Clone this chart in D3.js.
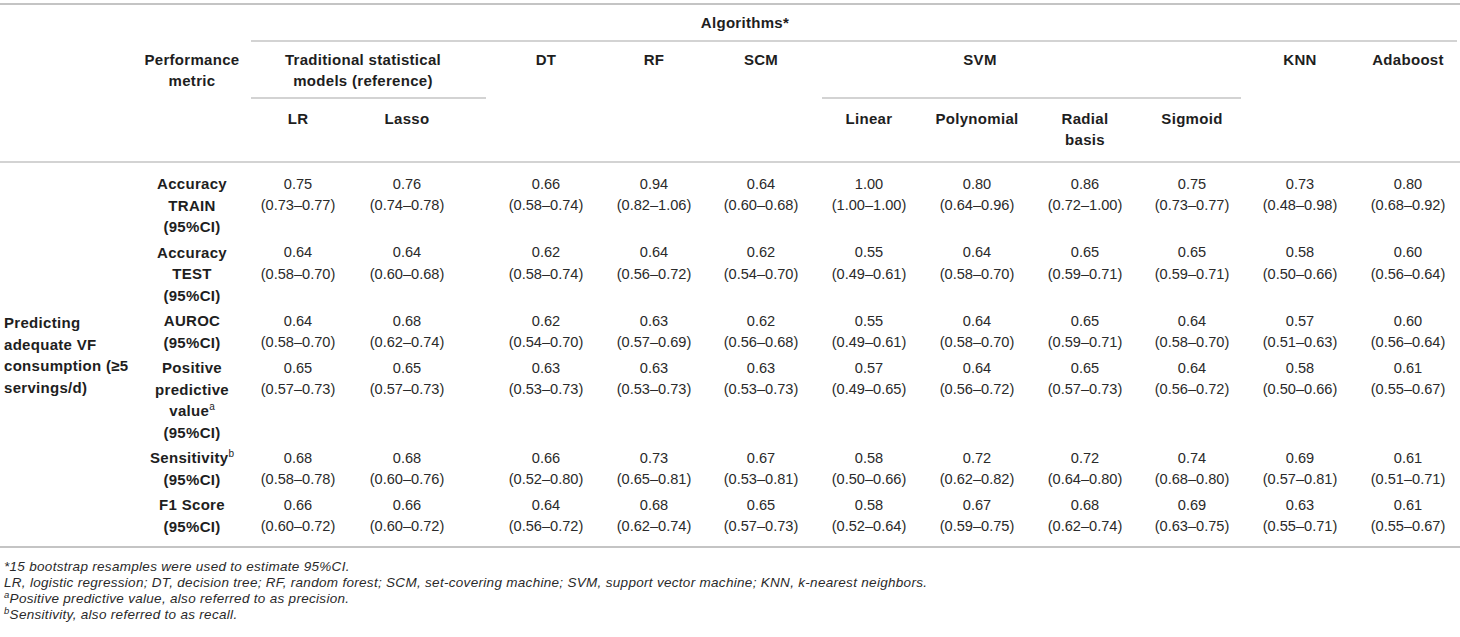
<!DOCTYPE html>
<html>
<head>
<meta charset="utf-8">
<script src="https://cdn.jsdelivr.net/npm/d3@7"></script>
<style>
  body { margin: 0; background: #fff; }
  svg { font-family: "Liberation Sans", Arial, Helvetica, sans-serif; }
  .hd { font-weight: bold; font-size: 15px; letter-spacing: 0.3px; fill: #1e1e1e; }
  .val { font-size: 14.6px; fill: #2a2a2a; }
  .note { font-style: italic; font-size: 13.5px; letter-spacing: 0.3px; fill: #2a2a2a; }
  .rule { stroke: #c4c4c4; }
</style>
</head>
<body>
<svg id="chart"></svg>
<script>
// columns (algorithms) left to right
const algorithms = ["LR", "Lasso", "DT", "RF", "SCM", "Linear", "Polynomial", "Radial basis", "Sigmoid", "KNN", "Adaboost"];

// metric row labels, "^" marks a superscript
const metricLabels = [
  ["Accuracy", "TRAIN", "(95%CI)"],
  ["Accuracy", "TEST", "(95%CI)"],
  ["AUROC", "(95%CI)"],
  ["Positive", "predictive", "value^a", "(95%CI)"],
  ["Sensitivity^b", "(95%CI)"],
  ["F1 Score", "(95%CI)"]
];

// [estimate, lower, upper] per algorithm
const accuracyTrain = [[0.75, 0.73, 0.77], [0.76, 0.74, 0.78], [0.66, 0.58, 0.74], [0.94, 0.82, 1.06], [0.64, 0.60, 0.68], [1.00, 1.00, 1.00], [0.80, 0.64, 0.96], [0.86, 0.72, 1.00], [0.75, 0.73, 0.77], [0.73, 0.48, 0.98], [0.80, 0.68, 0.92]];
const accuracyTest = [[0.64, 0.58, 0.70], [0.64, 0.60, 0.68], [0.62, 0.58, 0.74], [0.64, 0.56, 0.72], [0.62, 0.54, 0.70], [0.55, 0.49, 0.61], [0.64, 0.58, 0.70], [0.65, 0.59, 0.71], [0.65, 0.59, 0.71], [0.58, 0.50, 0.66], [0.60, 0.56, 0.64]];
const auroc = [[0.64, 0.58, 0.70], [0.68, 0.62, 0.74], [0.62, 0.54, 0.70], [0.63, 0.57, 0.69], [0.62, 0.56, 0.68], [0.55, 0.49, 0.61], [0.64, 0.58, 0.70], [0.65, 0.59, 0.71], [0.64, 0.58, 0.70], [0.57, 0.51, 0.63], [0.60, 0.56, 0.64]];
const ppv = [[0.65, 0.57, 0.73], [0.65, 0.57, 0.73], [0.63, 0.53, 0.73], [0.63, 0.53, 0.73], [0.63, 0.53, 0.73], [0.57, 0.49, 0.65], [0.64, 0.56, 0.72], [0.65, 0.57, 0.73], [0.64, 0.56, 0.72], [0.58, 0.50, 0.66], [0.61, 0.55, 0.67]];
const sensitivity = [[0.68, 0.58, 0.78], [0.68, 0.60, 0.76], [0.66, 0.52, 0.80], [0.73, 0.65, 0.81], [0.67, 0.53, 0.81], [0.58, 0.50, 0.66], [0.72, 0.62, 0.82], [0.72, 0.64, 0.80], [0.74, 0.68, 0.80], [0.69, 0.57, 0.81], [0.61, 0.51, 0.71]];
const f1Score = [[0.66, 0.60, 0.72], [0.66, 0.60, 0.72], [0.64, 0.56, 0.72], [0.68, 0.62, 0.74], [0.65, 0.57, 0.73], [0.58, 0.52, 0.64], [0.67, 0.59, 0.75], [0.68, 0.62, 0.74], [0.69, 0.63, 0.75], [0.63, 0.55, 0.71], [0.61, 0.55, 0.67]];

const rowGroup = ["Predicting", "adequate VF", "consumption (≥5", "servings/d)"];

const footnotes = [
  ["", "*15 bootstrap resamples were used to estimate 95%CI."],
  ["", "LR, logistic regression; DT, decision tree; RF, random forest; SCM, set-covering machine; SVM, support vector machine; KNN, k-nearest neighbors."],
  ["a", "Positive predictive value, also referred to as precision."],
  ["b", "Sensitivity, also referred to as recall."]
];

const tableRows = [accuracyTrain, accuracyTest, auroc, ppv, sensitivity, f1Score];

// ---- layout ----
const w = 1460, h = 637;
const colCenters = [298, 407, 546, 654, 761, 869, 977, 1085, 1192, 1300, 1408];
const metricX = 192;
const lineH = 21.5, rowPad = 4, bodyTop = 171;

const x = d3.scaleOrdinal().domain(algorithms).range(colCenters);
const fmt = d3.format(".2f");

const svg = d3.select("#chart").attr("width", w).attr("height", h);

// horizontal rules
const rules = [
  { x1: 0, x2: 1460, y: 4, sw: 2 },
  { x1: 251, x2: 1457, y: 41, sw: 1.5 },
  { x1: 251, x2: 486, y: 98, sw: 1.5 },
  { x1: 822, x2: 1241, y: 98, sw: 1.5 },
  { x1: 0, x2: 1460, y: 162, sw: 1.5 }
];

// row geometry from label line counts
const rowHeights = metricLabels.map(l => l.length * lineH + rowPad);
const rowTops = [bodyTop, ...d3.cumsum(rowHeights).map(v => bodyTop + v)];
const bodyBottom = rowTops[rowTops.length - 1];
rules.push({ x1: 0, x2: 1460, y: bodyBottom + 8, sw: 2 });

svg.selectAll("line.rule")
  .data(rules)
  .enter()
  .append("line")
  .attr("class", "rule")
  .attr("x1", d => d.x1).attr("x2", d => d.x2)
  .attr("y1", d => d.y).attr("y2", d => d.y)
  .attr("stroke-width", d => d.sw);

// helper for text with optional superscript
const addText = (g, str, px, py, cls, anchor) => {
  const parts = str.split("^");
  const t = g.append("text")
    .attr("class", cls)
    .attr("x", px)
    .attr("y", py)
    .attr("dy", "0.35em")
    .attr("text-anchor", anchor || "middle");
  t.append("tspan").text(parts[0]);
  if (parts[1]) {
    t.append("tspan")
      .attr("font-size", "10px")
      .attr("font-weight", "normal")
      .attr("letter-spacing", "0")
      .attr("dy", -6)
      .text(parts[1]);
  }
  return t;
};

// ---- header ----
const header = svg.append("g");
const headCells = [
  { lines: ["Algorithms*"], x: 745, y: 23 },
  { lines: ["Performance", "metric"], x: metricX, y: 60 },
  { lines: ["Traditional statistical", "models (reference)"], x: 363, y: 60 },
  { lines: ["DT"], x: x("DT"), y: 60 },
  { lines: ["RF"], x: x("RF"), y: 60 },
  { lines: ["SCM"], x: x("SCM"), y: 60 },
  { lines: ["SVM"], x: 980, y: 60 },
  { lines: ["KNN"], x: x("KNN"), y: 60 },
  { lines: ["Adaboost"], x: x("Adaboost"), y: 60 }
];
["LR", "Lasso", "Linear", "Polynomial", "Radial basis", "Sigmoid"].forEach(a => {
  headCells.push({ lines: a === "Radial basis" ? ["Radial", "basis"] : [a], x: x(a), y: 119 });
});
headCells.forEach(c => {
  c.lines.forEach((l, i) => addText(header, l, c.x, c.y + i * 21, "hd"));
});

// ---- body ----
const body = svg.append("g");
const lineY = (r, j) => rowTops[r] + rowPad / 2 + lineH * (j + 0.5);

// row group label, vertically centred on the body
const groupMid = (bodyTop + bodyBottom) / 2;
rowGroup.forEach((l, j) => {
  addText(body, l, 4, groupMid + (j - (rowGroup.length - 1) / 2) * lineH, "hd", "start");
});

metricLabels.forEach((lines, r) => {
  lines.forEach((l, j) => addText(body, l, metricX, lineY(r, j), "hd"));
});

tableRows.forEach((vals, r) => {
  const g = body.append("g");
  g.selectAll("text.est")
    .data(vals)
    .enter()
    .append("text")
    .attr("class", "val est")
    .attr("text-anchor", "middle")
    .attr("x", (d, i) => x(algorithms[i]))
    .attr("y", lineY(r, 0))
    .attr("dy", "0.35em")
    .text(d => fmt(d[0]));
  g.selectAll("text.ci")
    .data(vals)
    .enter()
    .append("text")
    .attr("class", "val ci")
    .attr("text-anchor", "middle")
    .attr("x", (d, i) => x(algorithms[i]))
    .attr("y", lineY(r, 1))
    .attr("dy", "0.35em")
    .text(d => `(${fmt(d[1])}–${fmt(d[2])})`);
});

// ---- footnotes (baseline set directly so tspan shifts don't clobber it) ----
const notes = svg.append("g");
footnotes.forEach((n, i) => {
  const t = notes.append("text")
    .attr("class", "note")
    .attr("x", 4)
    .attr("y", bodyBottom + 31.5 + i * 16.2);
  if (n[0]) {
    t.append("tspan").attr("font-size", "9.5px").attr("dy", -5).text(n[0]);
    t.append("tspan").attr("dy", 5).text(n[1]);
  } else {
    t.append("tspan").text(n[1]);
  }
});
</script>
</body>
</html>
